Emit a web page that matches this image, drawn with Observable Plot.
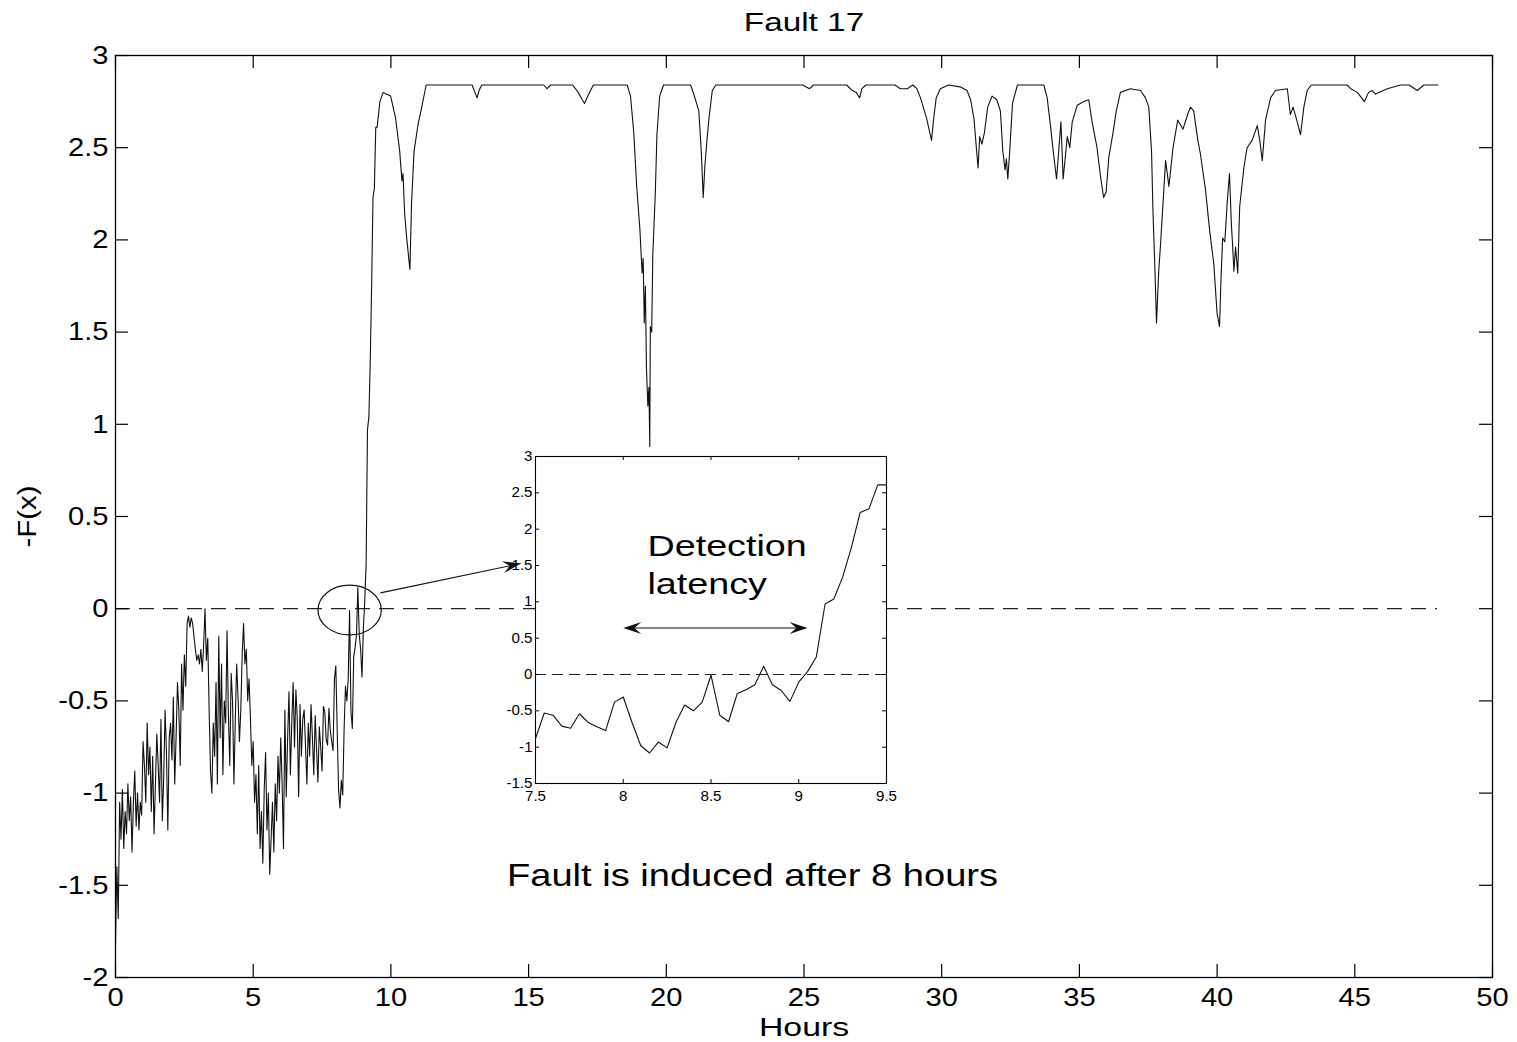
<!DOCTYPE html>
<html>
<head>
<meta charset="utf-8">
<script src="https://cdn.jsdelivr.net/npm/d3@7"></script>
<script src="https://cdn.jsdelivr.net/npm/@observablehq/plot@0.6"></script>
<style>
  html, body { margin: 0; padding: 0; background: #fff; overflow: hidden; }
  #chart { position: relative; width: 1517px; height: 1042px; }
  #chart svg { position: absolute; }
</style>
</head>
<body>
<div id="chart"></div>
<script>
// -F(x) recorded every 3 minutes (20 samples per hour) from 0 to 9.5 hours
const samplesPerHour = 20;
const preFault = [
  -1.82, -1.40, -1.68, -1.05, -1.25, -0.98, -1.30, -1.10, -1.22, -0.95,
  -1.15, -1.02, -1.32, -1.05, -0.88, -1.18, -1.00, -1.20, -1.05, -1.12,
  -0.72, -0.85, -1.05, -0.62, -0.90, -0.75, -1.10, -0.80, -1.22, -0.95,
  -0.68, -0.85, -1.05, -0.60, -1.15, -0.92, -0.55, -0.78, -1.20, -0.70,
  -0.62, -0.82, -0.48, -0.95, -0.70, -0.40, -0.55, -0.85, -0.30, -0.55,
  -0.25, -0.42, -0.08, -0.04, -0.10, -0.05, -0.08, -0.15, -0.22, -0.28,
  -0.25, -0.30, -0.22, -0.34, -0.20, 0.00, -0.28, -0.16, -0.55, -0.88,
  -1.00, -0.62, -0.80, -0.40, -0.95, -0.15, -0.70, -0.30, -0.90, -0.50,
  -0.62, -0.12, -0.58, -0.85, -0.35, -0.50, -0.95, -0.60, -0.30, -0.48,
  -0.72, -0.55, -0.25, -0.08, -0.30, -0.22, -0.50, -0.38, -0.60, -0.85,
  -0.72, -1.05, -0.90, -1.22, -0.85, -1.30, -1.10, -1.38, -0.98, -0.78,
  -1.20, -1.00, -1.44, -1.25, -1.05, -1.32, -0.95, -1.15, -0.80, -1.00,
  -0.70, -0.95, -1.30, -0.55, -1.02, -0.70, -0.45, -0.90, -0.62, -0.40,
  -0.75, -0.44, -0.60, -1.02, -0.52, -0.80, -0.60, -0.55, -0.75, -0.95,
  -0.62, -0.80, -0.52, -0.70, -0.90, -0.58, -0.76, -0.94, -0.64, -0.75,
  // 7.5 h onward
  -0.88, -0.53, -0.56, -0.71, -0.74, -0.54, -0.66, -0.72, -0.77, -0.38,
  -0.31, -0.66, -0.98, -1.08, -0.93, -1.01, -0.66, -0.42, -0.50, -0.38,
  -0.01, -0.56, -0.65, -0.26, -0.21, -0.14, 0.115, -0.14, -0.22, -0.37,
  -0.105, 0.04, 0.24, 0.97, 1.04, 1.34, 1.75, 2.23, 2.28, 2.61,
  2.61
];

// after 9.5 hours the record is kept at the turning points only
const postHours = [
  9.60, 9.72, 9.85, 9.99, 10.17, 10.32, 10.40, 10.44, 10.50, 10.58, 10.69, 10.75, 10.84, 10.99, 11.12, 11.28,
  12.95, 13.05, 13.13, 13.20, 13.30, 15.55, 15.67, 15.80, 16.60, 16.80, 16.95, 17.03, 17.15, 17.35,
  18.58, 18.70, 18.82, 18.92, 19.04, 19.12, 19.16, 19.20, 19.24, 19.28, 19.33, 19.37, 19.40, 19.42, 19.47, 19.51,
  19.60, 19.66, 19.76, 19.90, 20.88, 21.00, 21.18, 21.27, 21.34, 21.40, 21.47, 21.55, 21.67, 21.80,
  24.95, 25.20, 25.35, 26.55, 26.75, 26.90, 27.02, 27.10, 27.25, 28.30, 28.50, 28.75, 28.95,
  29.10, 29.23, 29.45, 29.63, 29.71, 29.80, 29.95, 30.25, 30.67, 30.92, 31.05, 31.17, 31.32, 31.38, 31.46,
  31.55, 31.67, 31.83, 32.00, 32.13, 32.22, 32.30, 32.35, 32.40, 32.47, 32.57, 32.75, 33.71, 33.83, 33.95,
  34.05, 34.17, 34.33, 34.41, 34.56, 34.65, 34.74, 34.92, 35.16, 35.34, 35.46, 35.64, 35.77, 35.88, 35.97,
  36.07, 36.22, 36.34, 36.49, 36.85, 37.22, 37.40, 37.52, 37.62, 37.67, 37.74, 37.80, 37.88, 37.94, 38.02,
  38.13, 38.25, 38.40, 38.57, 38.76, 38.93, 39.03, 39.15, 39.30, 39.39, 39.58, 39.73, 39.88, 40.00, 40.09,
  40.13, 40.20, 40.28, 40.37, 40.45, 40.52, 40.56, 40.61, 40.67, 40.75, 40.82, 40.97, 41.09, 41.27, 41.46,
  41.55, 41.64, 41.76, 41.94, 42.12, 42.55, 42.66, 42.76, 42.91, 43.03, 43.15, 43.27, 43.42, 44.72, 44.85,
  45.09, 45.35, 45.50, 45.63, 45.75, 45.87, 46.18, 46.66, 46.97, 47.27, 47.51, 48.02
];
const postFx = [
  2.75, 2.80, 2.79, 2.78, 2.66, 2.48, 2.32, 2.36, 2.14, 2.00, 1.84, 2.20, 2.48, 2.63, 2.72, 2.84,
  2.84, 2.80, 2.77, 2.81, 2.84, 2.84, 2.82, 2.84, 2.84, 2.80, 2.76, 2.74, 2.78, 2.84,
  2.84, 2.78, 2.58, 2.30, 2.06, 1.82, 1.90, 1.55, 1.75, 1.30, 1.10, 1.20, 0.88, 1.53, 1.50, 1.92,
  2.25, 2.57, 2.78, 2.84, 2.84, 2.79, 2.70, 2.48, 2.23, 2.40, 2.53, 2.66, 2.81, 2.84,
  2.84, 2.82, 2.84, 2.84, 2.81, 2.80, 2.77, 2.82, 2.84, 2.84, 2.82, 2.82, 2.84,
  2.82, 2.77, 2.66, 2.54, 2.66, 2.77, 2.82, 2.84, 2.83, 2.81, 2.76, 2.66, 2.39, 2.56, 2.52,
  2.58, 2.72, 2.78, 2.76, 2.70, 2.48, 2.38, 2.44, 2.33, 2.48, 2.74, 2.84, 2.84, 2.77, 2.62,
  2.48, 2.33, 2.64, 2.33, 2.56, 2.50, 2.64, 2.73, 2.75, 2.76, 2.64, 2.50, 2.34, 2.23, 2.26,
  2.45, 2.58, 2.70, 2.80, 2.82, 2.81, 2.77, 2.72, 2.48, 2.16, 1.85, 1.55, 1.83, 1.96, 2.16,
  2.43, 2.29, 2.50, 2.65, 2.60, 2.68, 2.72, 2.70, 2.54, 2.47, 2.27, 2.05, 1.87, 1.60, 1.53,
  1.74, 2.01, 1.99, 2.21, 2.36, 2.08, 1.98, 1.83, 1.96, 1.82, 2.18, 2.39, 2.50, 2.54, 2.62,
  2.54, 2.43, 2.65, 2.77, 2.81, 2.82, 2.68, 2.72, 2.64, 2.57, 2.72, 2.81, 2.84, 2.84, 2.82,
  2.80, 2.75, 2.80, 2.81, 2.79, 2.80, 2.82, 2.84, 2.84, 2.81, 2.84, 2.84
];

const xTicks = [0, 5, 10, 15, 20, 25, 30, 35, 40, 45, 50];
const yTicks = [-2, -1.5, -1, -0.5, 0, 0.5, 1, 1.5, 2, 2.5, 3];
const insetXTicks = [7.5, 8, 8.5, 9, 9.5];
const insetYTicks = [-1.5, -1, -0.5, 0, 0.5, 1, 1.5, 2, 2.5, 3];

const title = "Fault 17";
const xLabel = "Hours";
const yLabel = "-F(x)";
const threshold = 0;
const thresholdEnd = 48;
const faultNote = "Fault is induced after 8 hours";
const latencyNote = "Detection\nlatency";
const latencyStart = 8.0, latencyEnd = 9.05, latencyLevel = 0.64;
const ring = {hour: 8.52, fx: -0.01, halfHours: 1.15, halfFx: 0.135};
const pointer = {hour1: 9.62, fx1: 0.086, hour2: 14.71, fx2: 0.245};

const series = preFault.map((v, i) => ({hour: i / samplesPerHour, fx: v}))
  .concat(postHours.map((h, i) => ({hour: h, fx: postFx[i]})));
const zoomed = series.filter(d => d.hour >= 7.5 && d.hour <= 9.5);

const fmt = d => String(d);
const font = "'Liberation Sans', Arial, Helvetica, sans-serif";

// filled stealth arrowhead pointing along angle (radians, screen space), tip at origin
function arrowHead(angle, L = 18, W = 6) {
  const c = Math.cos(angle), s = Math.sin(angle);
  const pts = [[0, 0], [-L, -W], [-L * 0.62, 0], [-L, W]].map(([x, y]) => [x * c - y * s, x * s + y * c]);
  return {
    draw(ctx) {
      ctx.moveTo(pts[0][0], pts[0][1]);
      for (let k = 1; k < pts.length; k++) ctx.lineTo(pts[k][0], pts[k][1]);
      ctx.closePath();
    }
  };
}

// main chart geometry
const W = 1517, H = 1042;
const mL = 115, mR = 25, mT = 55, mB = 65;
const fw = W - mL - mR, fh = H - mT - mB;
const tick = 13;

const main = Plot.plot({
  width: W, height: H,
  marginLeft: mL, marginRight: mR, marginTop: mT, marginBottom: mB,
  x: {domain: [0, 50]},
  y: {domain: [-2, 3]},
  style: {fontFamily: font, fontSize: "26px", color: "black", background: "white"},
  marks: [
    Plot.ruleY([threshold], {x1: 0, x2: thresholdEnd, stroke: "#222", strokeWidth: 1.2, strokeDasharray: "15,9"}),
    Plot.line(series, {x: "hour", y: "fx", stroke: "#111", strokeWidth: 1.1}),
    Plot.frame({stroke: "black", strokeWidth: 1.3}),
    Plot.tickX(xTicks, {x: d => d, insetTop: fh - tick, strokeWidth: 1.2}),
    Plot.tickX(xTicks, {x: d => d, insetBottom: fh - tick, strokeWidth: 1.2}),
    Plot.tickY(yTicks, {y: d => d, insetRight: fw - tick, strokeWidth: 1.2}),
    Plot.tickY(yTicks, {y: d => d, insetLeft: fw - tick, strokeWidth: 1.2}),
    Plot.axisX(xTicks, {tickSize: 0, tickPadding: 10, tickFormat: fmt, label: null, fontSize: 26}),
    Plot.axisY(yTicks, {tickSize: 0, tickPadding: 7, tickFormat: fmt, label: null, fontSize: 26}),
    Plot.text([title], {frameAnchor: "top", lineAnchor: "middle", dy: -33, fontSize: 26}),
    Plot.text([xLabel], {frameAnchor: "bottom", lineAnchor: "middle", dy: 50, fontSize: 26}),
    Plot.text([yLabel], {frameAnchor: "left", textAnchor: "middle", lineAnchor: "middle", dx: -88, rotate: -90, fontSize: 26}),
    Plot.text([faultNote], {x: 23.13, y: -1.45, fontSize: 32})
  ]
});

// ellipse marking the threshold crossing, placed with the chart's own scales
{
  const sx = main.scale("x"), sy = main.scale("y");
  const cx = sx.apply(ring.hour), cy = sy.apply(ring.fx);
  d3.select(main).append("ellipse")
    .attr("cx", cx).attr("cy", cy)
    .attr("rx", Math.abs(sx.apply(ring.hour + ring.halfHours) - cx))
    .attr("ry", Math.abs(sy.apply(ring.fx + ring.halfFx) - cy))
    .attr("fill", "none").attr("stroke", "#111").attr("stroke-width", 1.2);
}
main.style.left = "0px"; main.style.top = "0px";

// inset: close-up of the detection window
const iL = 40, iR = 15, iT = 10, iB = 25;
const iW = 406, iH = 362;
const ifw = iW - iL - iR, ifh = iH - iT - iB;
const itick = 4;

const inset = Plot.plot({
  width: iW, height: iH,
  marginLeft: iL, marginRight: iR, marginTop: iT, marginBottom: iB,
  x: {domain: [7.5, 9.5]},
  y: {domain: [-1.5, 3]},
  style: {fontFamily: font, fontSize: "14px", color: "black", background: "transparent"},
  marks: [
    Plot.frame({fill: "white", stroke: "black", strokeWidth: 1.1}),
    Plot.ruleY([threshold], {stroke: "#222", strokeWidth: 1.1, strokeDasharray: "11,6"}),
    Plot.line(zoomed, {x: "hour", y: "fx", stroke: "#111", strokeWidth: 1.1}),
    Plot.tickX(insetXTicks, {x: d => d, insetTop: ifh - itick}),
    Plot.tickX(insetXTicks, {x: d => d, insetBottom: ifh - itick}),
    Plot.tickY(insetYTicks, {y: d => d, insetRight: ifw - itick}),
    Plot.tickY(insetYTicks, {y: d => d, insetLeft: ifw - itick}),
    Plot.axisX(insetXTicks, {tickSize: 0, tickPadding: 8, tickFormat: fmt, label: null, fontSize: 14}),
    Plot.axisY(insetYTicks, {tickSize: 0, tickPadding: 3, tickFormat: fmt, label: null, fontSize: 14}),
    Plot.text([latencyNote], {x: 8.138, y: 1.535, textAnchor: "start", lineAnchor: "middle", lineHeight: 1.32, fontSize: 29}),
    Plot.link([0], {x1: latencyStart + 0.05, x2: latencyEnd - 0.05, y1: latencyLevel, y2: latencyLevel, stroke: "#111", strokeWidth: 1.2}),
    Plot.dot([0], {x: latencyStart, y: latencyLevel, symbol: arrowHead(Math.PI), fill: "#111", stroke: null}),
    Plot.dot([0], {x: latencyEnd, y: latencyLevel, symbol: arrowHead(0), fill: "#111", stroke: null})
  ]
});
inset.style.left = (535 - iL) + "px";
inset.style.top = (456 - iT) + "px";

// pointer from the ellipse to the inset, drawn above everything
const kx = fw / 50, ky = fh / 5;
const pAngle = Math.atan2(-(pointer.fx2 - pointer.fx1) * ky, (pointer.hour2 - pointer.hour1) * kx);
const overlay = Plot.plot({
  width: W, height: H,
  marginLeft: mL, marginRight: mR, marginTop: mT, marginBottom: mB,
  x: {domain: [0, 50]},
  y: {domain: [-2, 3]},
  axis: null,
  style: {background: "transparent", color: "black"},
  marks: [
    Plot.link([pointer], {x1: "hour1", y1: "fx1", x2: "hour2", y2: "fx2", stroke: "#111", strokeWidth: 1.2}),
    Plot.dot([pointer], {x: "hour2", y: "fx2", symbol: arrowHead(pAngle), fill: "#111", stroke: null})
  ]
});
overlay.style.left = "0px"; overlay.style.top = "0px";
overlay.style.pointerEvents = "none";

const chart = document.getElementById("chart");
chart.append(main, inset, overlay);

// the lettering of this figure runs wide; widen each text run in place
const widen = new Map([[title, 1.28], [faultNote, 1.19], ["Detection", 1.3], ["latency", 1.3], [xLabel, 1.3], [yLabel, 1.13]]);
for (const [svg, base] of [[main, 1.12], [inset, 1.08]]) {
  svg.querySelectorAll("text").forEach(t => {
    const spans = t.querySelectorAll("tspan");
    const parts = spans.length ? Array.from(spans) : [t];
    parts.forEach(p => {
      const f = widen.get(p.textContent) ?? base;
      const len = p.getComputedTextLength();
      p.setAttribute("textLength", (len * f).toFixed(1));
      p.setAttribute("lengthAdjust", "spacingAndGlyphs");
    });
  });
}
</script>
</body>
</html>
